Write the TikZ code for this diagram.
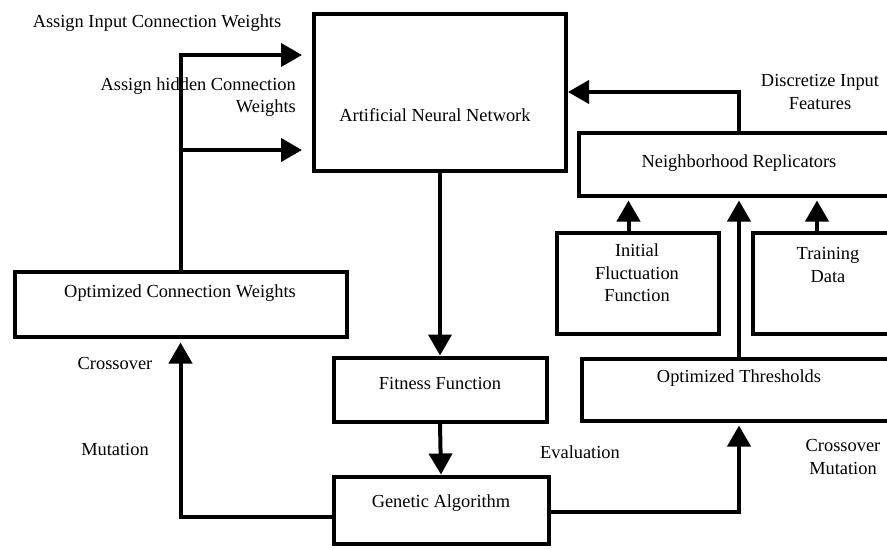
\documentclass[tikz,border=0pt]{standalone}
\usepackage{fontspec}
\setmainfont{Liberation Serif}
\usetikzlibrary{arrows.meta,calc}
\begin{document}
\begin{tikzpicture}[x=1pt,y=-1pt,
  box/.style={draw,line width=4pt,inner sep=0pt},
  conn/.style={line width=4pt,-{Triangle[length=21pt,width=23pt]}},
  lbl/.style={font=\fontsize{18.4}{22.5}\selectfont,align=center,inner sep=0pt}]
\useasboundingbox (0,0) rectangle (887,549);
\fill[white] (0,0) rectangle (887,549);
\clip (0,0) rectangle (887,549);

% blocks
\node[box,minimum width=252pt,minimum height=157pt] (ann) at (440,92) {};
\node[box,minimum width=332pt,minimum height=65pt] (ocw) at (180.5,304) {};
\node[box,minimum width=213pt,minimum height=64pt] (ff) at (440,389.5) {};
\node[box,minimum width=215pt,minimum height=67pt] (ga) at (441,510) {};
\node[box,minimum width=320pt,minimum height=62pt] (ot) at (742,389.5) {};
\node[box,minimum width=324pt,minimum height=63pt] (nr) at (741,164) {};
\node[box,minimum width=162pt,minimum height=101pt] (iff) at (637.5,283) {};
\node[box,minimum width=152pt,minimum height=101pt] (td) at (829,283) {};

% block captions
\node[lbl] (anntext) at (435,115) {Artificial Neural Network};
\node[lbl] (ocwtext) at (180,293) {Optimized Connection Weights};
\node[lbl] (fftext) at (440,383) {Fitness Function};
\node[lbl] (gatext) at (441,503) {Genetic Algorithm};
\node[lbl] (ottext) at (739,378) {Optimized Thresholds};
\node[lbl] (nrtext) at (739,163) {Neighborhood Replicators};
\node[lbl] (ifftext) at (637,273) {Initial\\Fluctuation\\Function};
\node[lbl] (tdtext) at (828,265) {Training\\Data};

% free labels
\node[lbl] (l1) at (157,23) {Assign Input Connection Weights};
\node[lbl,align=right,anchor=east] (l2) at (296,97) {Assign hidden Connection\\Weights};
\node[lbl] (l3) at (115,363) {Crossover};
\node[lbl] (l4) at (115,449) {Mutation};
\node[lbl] (l5) at (580,452) {Evaluation};
\node[lbl] (l6) at (843,457) {Crossover\\Mutation};
\node[lbl] (l7) at (820,92) {Discretize Input\\Features};

% connector helpers
\coordinate (inA) at ([yshift=37pt]ann.west);
\coordinate (inB) at ([yshift=-58pt]ann.west);
\coordinate (gaL) at ([yshift=-7pt]ga.west);
\coordinate (gaR) at ([yshift=-2pt]ga.east);
\coordinate (iffUp) at ([xshift=-9pt]iff.north);
\coordinate (tdUp) at ([xshift=-12pt]td.north);

% connectors
\draw[conn,shorten >=10pt] (ocw.north) |- (inA);
\draw[conn,shorten >=10pt] (inB -| ocw.north) -- (inB);
\draw[conn] (ann.south) -- (ff.north);
\draw[conn] (ff.south) -- (ga.north);
\draw[conn,shorten >=4pt] (gaL) -| (ocw.south);
\draw[conn,shorten >=3pt] (gaR) -| (nrtext |- ot.south);
\draw[conn,shorten >=3pt] (nrtext |- ot.north) -- (nrtext |- nr.south);
\draw[conn,shorten >=3pt] (iffUp) -- (iffUp |- nr.south);
\draw[conn,shorten >=3pt] (tdUp) -- (tdUp |- nr.south);
\draw[conn] (nrtext |- nr.north) |- (ann.east);
\end{tikzpicture}
\end{document}
